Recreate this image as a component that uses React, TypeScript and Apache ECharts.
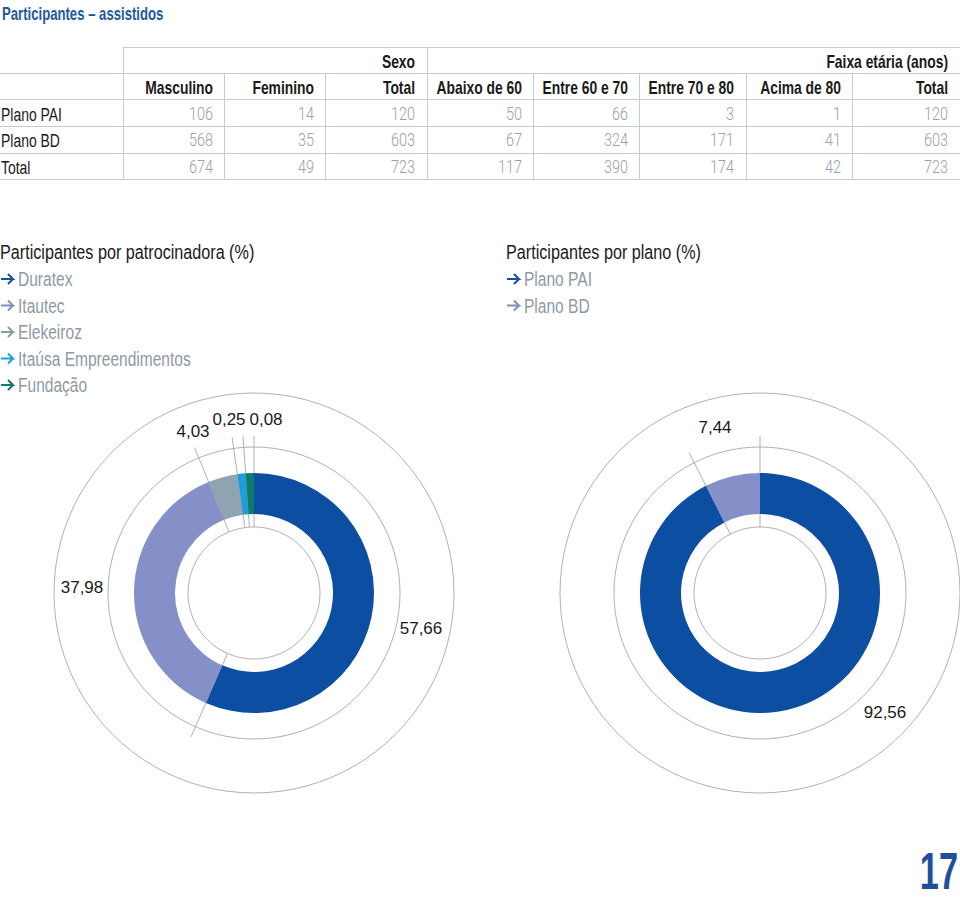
import React, { useEffect, useRef } from "react";
import * as echarts from "echarts";

// ---------- DATA ----------
const title = "Participantes – assistidos";
const groupHeaders = ["Sexo", "Faixa etária (anos)"];
const columnHeaders = ["Masculino", "Feminino", "Total", "Abaixo de 60", "Entre 60 e 70", "Entre 70 e 80", "Acima de 80", "Total"];
const rowLabels = ["Plano PAI", "Plano BD", "Total"];
const masculino = [106, 568, 674];
const feminino = [14, 35, 49];
const sexoTotal = [120, 603, 723];
const abaixo60 = [50, 67, 117];
const entre60e70 = [66, 324, 390];
const entre70e80 = [3, 171, 174];
const acima80 = [1, 41, 42];
const faixaTotal = [120, 603, 723];

const sponsorTitle = "Participantes por patrocinadora (%)";
const sponsorNames = ["Duratex", "Itautec", "Elekeiroz", "Itaúsa Empreendimentos", "Fundação"];
const sponsorValues = [57.66, 37.98, 4.03, 0.25, 0.08];

const planTitle = "Participantes por plano (%)";
const planNames = ["Plano BD", "Plano PAI"];
const planValues = [92.56, 7.44];
const planLegendNames = ["Plano PAI", "Plano BD"];

const pageNumber = "17";

// ---------- STYLE ----------
const FONT = "'Liberation Sans', Arial, sans-serif";
const LIGHT = "Roboto, 'Liberation Sans', sans-serif";
const sponsorColors = ["#0b4ea2", "#8590c8", "#8fa4b0", "#1c9fd9", "#0e7a6a"];
const sponsorArrowColors = ["#1a4f9a", "#8090c0", "#8a9aa5", "#1aa0d8", "#107a68"];
const planColors = ["#0b4ea2", "#8590c8"];
const planArrowColors = ["#1a4f9a", "#8090c0"];
const lineGrey = "#c6ccd1";
const circleGrey = "#9c9c9c";

const colRight = [213, 314, 415, 522, 628, 734, 841, 948];
const rowY = [114, 140, 167];
const hLines = [73, 99, 126, 153, 179];
const vLinesFull = [123, 427];
const vLinesLower = [224, 325, 533, 639, 746, 852];

const leftCenter = [254, 593];
const rightCenter = [760, 593];
const ringRadius = [79, 120];
const thinRadii = [66, 146, 200];
const boundaryR = [66, 157];
const MIN_ANGLE = 4;

const leftLabelPos = [[421, 628], [82, 587], [193, 431], [229, 419], [266, 419]];
const rightLabelPos = [[885, 712], [715, 427]];

function pieAngles(values: number[], minAngle: number): number[] {
  const sum = values.reduce((a, b) => a + b, 0);
  let rest = 360;
  let bigSum = 0;
  values.forEach((v) => {
    if ((v / sum) * 360 < minAngle) rest -= minAngle;
    else bigSum += v;
  });
  const unit = rest / bigSum;
  return values.map((v) => ((v / sum) * 360 < minAngle ? minAngle : v * unit));
}

function boundaryLines(values: number[], center: number[]) {
  const angs = pieAngles(values, MIN_ANGLE);
  const out: any[] = [];
  let acc = 0;
  angs.forEach((a) => {
    const t = (acc * Math.PI) / 180;
    const s = Math.sin(t), c = Math.cos(t);
    out.push({
      type: "line",
      z: 0,
      silent: true,
      shape: {
        x1: center[0] + boundaryR[0] * s,
        y1: center[1] - boundaryR[0] * c,
        x2: center[0] + boundaryR[1] * s,
        y2: center[1] - boundaryR[1] * c,
      },
      style: { stroke: circleGrey, lineWidth: 0.8 },
    });
    acc += a;
  });
  return out;
}

function fmt(v: number) {
  return v.toFixed(2).replace(".", ",");
}

export default function App() {
  const ref = useRef<HTMLDivElement>(null);
  useEffect(() => {
    if (!ref.current) return;
    const chart = echarts.init(ref.current, null, { renderer: "svg" });
    const g: any[] = [];
    const txt = (text: string, x: number, y: number, o: any = {}) =>
      g.push({
        type: "text",
        x,
        y,
        z: 5,
        silent: true,
        scaleX: o.scaleX ?? 0.8,
        style: {
          text,
          fill: o.fill ?? "#1a1a1a",
          fontSize: o.size ?? 17,
          fontWeight: o.weight ?? "normal",
          fontFamily: o.family ?? FONT,
          textAlign: o.align ?? "left",
          textVerticalAlign: o.valign ?? "middle",
        },
      });
    const hline = (x1: number, x2: number, y: number) =>
      g.push({ type: "line", silent: true, shape: { x1, y1: y + 0.5, x2, y2: y + 0.5 }, style: { stroke: lineGrey, lineWidth: 1 } });
    const vline = (x: number, y1: number, y2: number) =>
      g.push({ type: "line", silent: true, shape: { x1: x + 0.5, y1, x2: x + 0.5, y2 }, style: { stroke: lineGrey, lineWidth: 1 } });
    const arrow = (x: number, y: number, color: string) =>
      g.push({
        type: "polyline",
        silent: true,
        shape: { points: [[x, y], [x + 12, y], [x + 7, y - 5], [x + 12, y], [x + 7, y + 5]] },
        style: { stroke: color, lineWidth: 2, fill: "none", lineJoin: "miter" },
      });

    // title
    txt(title, 2, 14, { fill: "#22599e", weight: "bold", size: 18, scaleX: 0.73 });

    // table lines
    hline(123, 960, 47);
    hLines.forEach((y) => hline(0, 960, y));
    vLinesFull.forEach((x) => vline(x, 47, 180));
    vLinesLower.forEach((x) => vline(x, 73, 180));

    // table headers
    const hdr = { weight: "bold", size: 18, align: "right", scaleX: 0.77 };
    txt(groupHeaders[0], colRight[2], 61, hdr);
    txt(groupHeaders[1], colRight[7], 61, hdr);
    columnHeaders.forEach((h, i) => txt(h, colRight[i], 87, hdr));
    const cols = [masculino, feminino, sexoTotal, abaixo60, entre60e70, entre70e80, acima80, faixaTotal];
    rowLabels.forEach((r, ri) => {
      txt(r, 1, rowY[ri], { size: 18, scaleX: 0.775 });
      cols.forEach((col, ci) =>
        txt(String(col[ri]), colRight[ci], rowY[ri], { size: 18, fill: "#98a1a9", align: "right", family: LIGHT, weight: 300, scaleX: 0.8 })
      );
    });

    // legends
    txt(sponsorTitle, 0, 252, { size: 21, scaleX: 0.77 });
    sponsorNames.forEach((n, i) => {
      const y = 279 + i * 26.5;
      arrow(1, y, sponsorArrowColors[i]);
      txt(n, 18, y, { size: 21, fill: "#8d9aa5", scaleX: 0.74 });
    });
    txt(planTitle, 506, 252, { size: 21, scaleX: 0.77 });
    planLegendNames.forEach((n, i) => {
      const y = 279 + i * 26.5;
      arrow(507, y, planArrowColors[i]);
      txt(n, 524, y, { size: 21, fill: "#8d9aa5", scaleX: 0.74 });
    });

    // page number
    txt(pageNumber, 958, 871, { size: 52, weight: "bold", fill: "#1d4f9c", align: "right", scaleX: 0.66 });

    // thin circles
    [leftCenter, rightCenter].forEach((c) =>
      thinRadii.forEach((r) =>
        g.push({ type: "circle", z: 0, silent: true, shape: { cx: c[0], cy: c[1], r }, style: { fill: "none", stroke: circleGrey, lineWidth: 0.8 } })
      )
    );
    g.push(...boundaryLines(sponsorValues, leftCenter));
    g.push(...boundaryLines(planValues, rightCenter));

    const labelStyle = {
      show: true,
      formatter: (p: any) => fmt(p.value),
      fontSize: 17,
      color: "#1a1a1a",
      fontFamily: FONT,
    };

    chart.setOption({
      animation: false,
      graphic: { elements: g },
      series: [
        {
          type: "pie",
          z: 2,
          silent: true,
          center: leftCenter,
          radius: ringRadius,
          startAngle: 90,
          clockwise: true,
          minAngle: MIN_ANGLE,
          avoidLabelOverlap: false,
          label: labelStyle,
          labelLine: { show: false },
          labelLayout: (p: any) => ({
            x: leftLabelPos[p.dataIndex][0],
            y: leftLabelPos[p.dataIndex][1],
            align: "center",
            verticalAlign: "middle",
          }),
          data: sponsorNames.map((n, i) => ({ name: n, value: sponsorValues[i], itemStyle: { color: sponsorColors[i] } })),
        },
        {
          type: "pie",
          z: 2,
          silent: true,
          center: rightCenter,
          radius: ringRadius,
          startAngle: 90,
          clockwise: true,
          minAngle: MIN_ANGLE,
          avoidLabelOverlap: false,
          label: labelStyle,
          labelLine: { show: false },
          labelLayout: (p: any) => ({
            x: rightLabelPos[p.dataIndex][0],
            y: rightLabelPos[p.dataIndex][1],
            align: "center",
            verticalAlign: "middle",
          }),
          data: planNames.map((n, i) => ({ name: n, value: planValues[i], itemStyle: { color: planColors[i] } })),
        },
      ],
    });
    return () => chart.dispose();
  }, []);
  return <div ref={ref} style={{ position: "fixed", left: 0, top: 0, width: 960, height: 902, background: "#fff" }} />;
}
